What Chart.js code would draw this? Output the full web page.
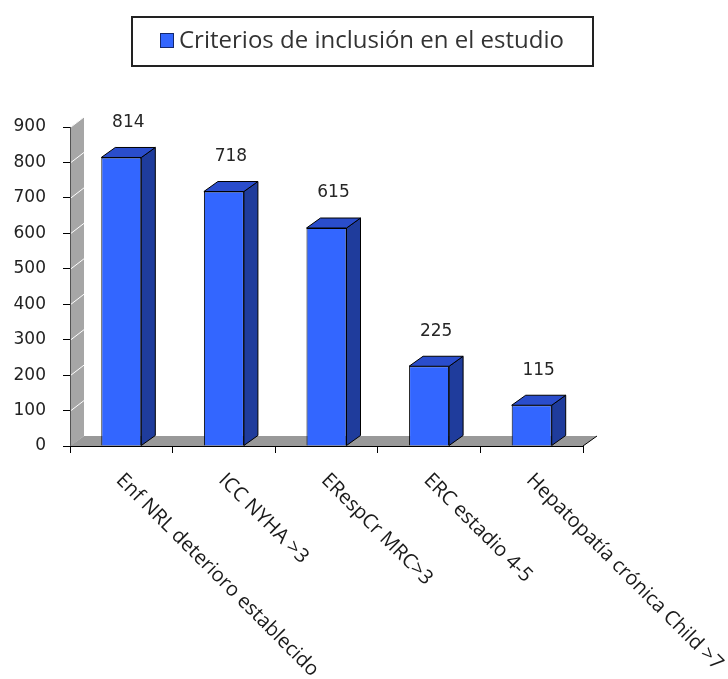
<!DOCTYPE html>
<html>
<head>
<meta charset="utf-8">
<script src="https://cdn.jsdelivr.net/npm/chart.js@4.4.1/dist/chart.umd.min.js"></script>
<style>
  html, body { margin: 0; padding: 0; background: #fff; }
  #wrap { width: 728px; height: 679px; }
</style>
</head>
<body>
<div id="wrap"><canvas id="chart" width="728" height="679"></canvas></div>
<script>
    const seriesName = 'Criterios de inclusión en el estudio';
    const categories = [
        'Enf NRL deterioro establecido',
        'ICC NYHA >3',
        'ERespCr MRC>3',
        'ERC estadio 4-5',
        'Hepatopatía crónica Child >7'
    ];
    const values = [814, 718, 615, 225, 115];
    const yTicks = [0, 100, 200, 300, 400, 500, 600, 700, 800, 900];

    // depth of the fake 3d effect
    const DX = 14;
    const DY = 10;

    const frontColor = '#3366ff';
    const sideColor = '#1f3c9c';
    const topColor = '#2a4dcc';

    const threeD = {
        id: 'threeD',
        beforeDatasetsDraw(chart) {
            const ctx = chart.ctx;
            const area = chart.chartArea;
            const yScale = chart.scales.y;
            ctx.save();
            // left wall
            ctx.fillStyle = '#a6a6a6';
            ctx.beginPath();
            ctx.moveTo(area.left + 0.5, area.bottom);
            ctx.lineTo(area.left + 0.5, area.top);
            ctx.lineTo(area.left + DX, area.top - DY);
            ctx.lineTo(area.left + DX, area.bottom - DY);
            ctx.closePath();
            ctx.fill();
            ctx.strokeStyle = '#ffffff';
            ctx.lineWidth = 1;
            yTicks.forEach(v => {
                if (v === 0) return;
                const py = yScale.getPixelForValue(v);
                ctx.beginPath();
                ctx.moveTo(area.left + 1, py);
                ctx.lineTo(area.left + DX, py - DY);
                ctx.stroke();
            });
            // floor
            ctx.fillStyle = '#999999';
            ctx.beginPath();
            ctx.moveTo(area.left, area.bottom);
            ctx.lineTo(area.right, area.bottom);
            ctx.lineTo(area.right + DX, area.bottom - DY);
            ctx.lineTo(area.left + DX, area.bottom - DY);
            ctx.closePath();
            ctx.fill();
            ctx.strokeStyle = '#000';
            ctx.beginPath();
            ctx.moveTo(area.right, area.bottom);
            ctx.lineTo(area.right + DX, area.bottom - DY);
            ctx.stroke();
            ctx.restore();
        },
        afterDatasetsDraw(chart) {
            const ctx = chart.ctx;
            const meta = chart.getDatasetMeta(0);
            ctx.save();
            ctx.lineWidth = 1;
            ctx.strokeStyle = '#000';
            meta.data.forEach((bar, i) => {
                const p = bar.getProps(['x', 'y', 'base', 'width'], true);
                const l = p.x - p.width / 2;
                const r = p.x + p.width / 2;
                // side
                ctx.fillStyle = sideColor;
                ctx.beginPath();
                ctx.moveTo(r, p.y);
                ctx.lineTo(r + DX, p.y - DY);
                ctx.lineTo(r + DX, p.base - DY);
                ctx.lineTo(r, p.base);
                ctx.closePath();
                ctx.fill();
                ctx.stroke();
                // top
                ctx.fillStyle = topColor;
                ctx.beginPath();
                ctx.moveTo(l, p.y);
                ctx.lineTo(r, p.y);
                ctx.lineTo(r + DX, p.y - DY);
                ctx.lineTo(l + DX, p.y - DY);
                ctx.closePath();
                ctx.fill();
                ctx.stroke();
                // value label
                ctx.fillStyle = '#262626';
                ctx.font = '17px "DejaVu Sans"';
                ctx.textAlign = 'center';
                ctx.textBaseline = 'middle';
                ctx.fillText(String(values[i]), p.x + DX / 2, p.y - 35);
            });
            ctx.restore();
        },
        afterDraw(chart) {
            const ctx = chart.ctx;
            const xScale = chart.scales.x;
            ctx.save();
            // slanted category labels
            ctx.fillStyle = '#1a1a1a';
            ctx.font = '20px "Open Sans"';
            ctx.textAlign = 'left';
            ctx.textBaseline = 'top';
            categories.forEach((c, i) => {
                const px = xScale.getPixelForValue(i);
                ctx.save();
                ctx.translate(px + 5, 470);
                ctx.rotate(Math.PI / 4);
                ctx.fillText(c, 0, 0);
                ctx.restore();
            });
            // legend box
            ctx.lineWidth = 2;
            ctx.strokeStyle = '#222';
            ctx.strokeRect(132, 17, 461, 49);
            ctx.fillStyle = frontColor;
            ctx.fillRect(161, 34, 12, 13);
            ctx.lineWidth = 1;
            ctx.strokeStyle = '#14286e';
            ctx.strokeRect(160.5, 33.5, 13, 14);
            ctx.fillStyle = '#333';
            ctx.font = '24px "Open Sans"';
            ctx.textBaseline = 'middle';
            ctx.fillText(seriesName, 179, 41);
            ctx.restore();
        }
    };

    const ctx = document.getElementById('chart').getContext('2d');
    const chart = new Chart(ctx, {
        type: 'bar',
        data: {
            labels: categories,
            datasets: [{
                label: seriesName,
                data: values,
                backgroundColor: frontColor,
                borderColor: '#000',
                borderWidth: 1,
                categoryPercentage: 1,
                barPercentage: 0.39
            }]
        },
        options: {
            responsive: false,
            animation: false,
            devicePixelRatio: 1,
            layout: { padding: { top: 127, right: 145, bottom: 0, left: 0 } },
            plugins: {
                legend: { display: false },
                tooltip: { enabled: false }
            },
            scales: {
                x: {
                    afterFit: scale => { scale.height = 233; },
                    ticks: { display: false },
                    grid: { drawOnChartArea: false, drawTicks: true, tickLength: 7, color: '#000' },
                    border: { color: '#000', width: 1 }
                },
                y: {
                    min: 0,
                    max: 900,
                    afterFit: scale => { scale.width = 70; },
                    afterBuildTicks: scale => { scale.ticks = yTicks.map(v => ({ value: v })); },
                    ticks: {
                        padding: 17,
                        color: '#222',
                        font: { family: 'DejaVu Sans', size: 17 }
                    },
                    grid: { drawOnChartArea: false, drawTicks: true, tickLength: 7, color: '#000' },
                    border: { color: '#000', width: 1 }
                }
            }
        },
        plugins: [threeD]
    });
</script>
</body>
</html>
